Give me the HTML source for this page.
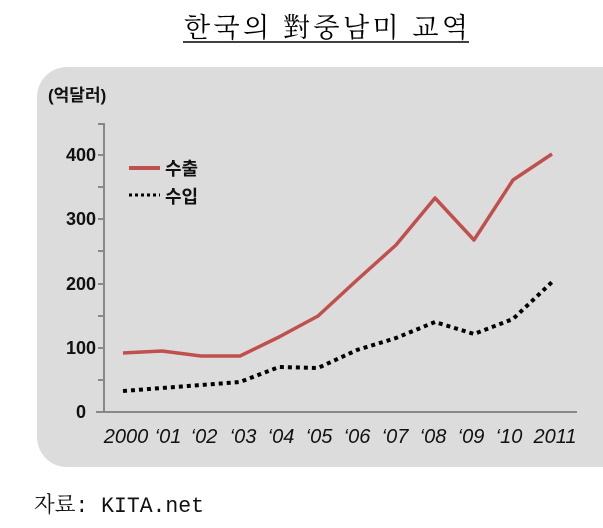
<!DOCTYPE html><html><head><meta charset="utf-8"><style>
body{margin:0;background:#fff;width:603px;height:523px;overflow:hidden}
</style></head><body>
<svg width="603" height="523" xmlns="http://www.w3.org/2000/svg">
<text x="184" y="37" textLength="284" lengthAdjust="spacing" font-family="'Noto Serif CJK SC','Liberation Serif',serif" font-size="27" fill="#000">한국의  對중남미  교역</text>
<line x1="183" y1="42" x2="469" y2="42" stroke="#000" stroke-width="1.5"/>
<rect x="37" y="67" width="600" height="400" rx="30" fill="#dcdcdc"/>
<text x="48" y="101" font-family="'Liberation Sans','Noto Sans CJK KR',sans-serif" font-size="17" font-weight="bold" fill="#111">(억달러)</text>
<g stroke="#888" stroke-width="2" fill="none">
<line x1="104" y1="123" x2="104" y2="412"/>
<line x1="96" y1="412" x2="577" y2="412"/>
<line x1="98" y1="124" x2="104" y2="124"/><line x1="98" y1="155" x2="104" y2="155"/><line x1="98" y1="187" x2="104" y2="187"/><line x1="98" y1="219" x2="104" y2="219"/><line x1="98" y1="251" x2="104" y2="251"/><line x1="98" y1="284" x2="104" y2="284"/><line x1="98" y1="316" x2="104" y2="316"/><line x1="98" y1="348" x2="104" y2="348"/><line x1="98" y1="380" x2="104" y2="380"/>
</g>
<g font-family="'Liberation Sans',sans-serif" font-size="18" font-weight="bold" fill="#111" text-anchor="end">
<text x="96" y="161">400</text><text x="96" y="225">300</text><text x="96" y="290">200</text><text x="96" y="354">100</text><text x="86" y="418">0</text>
</g>
<g font-family="'Liberation Sans',sans-serif" font-size="20" font-style="italic" fill="#111" text-anchor="middle">
<text x="126" y="443">2000</text><text x="168" y="443">‘01</text><text x="204" y="443">‘02</text><text x="243" y="443">‘03</text><text x="281" y="443">‘04</text><text x="319" y="443">‘05</text><text x="357" y="443">‘06</text><text x="395" y="443">‘07</text><text x="433" y="443">‘08</text><text x="471" y="443">‘09</text><text x="509" y="443">‘10</text><text x="555" y="443">2011</text>
</g>
<line x1="129" y1="168" x2="160" y2="168" stroke="#c0504d" stroke-width="4"/>
<line x1="129" y1="195" x2="160" y2="195" stroke="#000" stroke-width="3" stroke-dasharray="3,3"/>
<g font-family="'Liberation Sans','Noto Sans CJK KR',sans-serif" font-size="18" font-weight="bold" fill="#111">
<text x="165" y="175">수출</text><text x="165" y="203">수입</text></g>
<polyline fill="none" stroke="#c0504d" stroke-width="3.5" stroke-linejoin="round" points="123,353 162,351 201,356 240,356 279,337 318,316 357,280 396,245 435,198 474,240 513,180 552,154"/>
<polyline fill="none" stroke="#000" stroke-width="4" stroke-dasharray="4,4" points="123,391 162,388 201,385 240,382 279,367 318,368 357,350 396,338 435,322 474,334 513,319 552,282"/>
<text x="34" y="512" textLength="170" lengthAdjust="spacingAndGlyphs" font-family="'Liberation Mono','Noto Serif CJK SC',monospace" font-size="22" fill="#111">자료: KITA.net</text>
</svg></body></html>
